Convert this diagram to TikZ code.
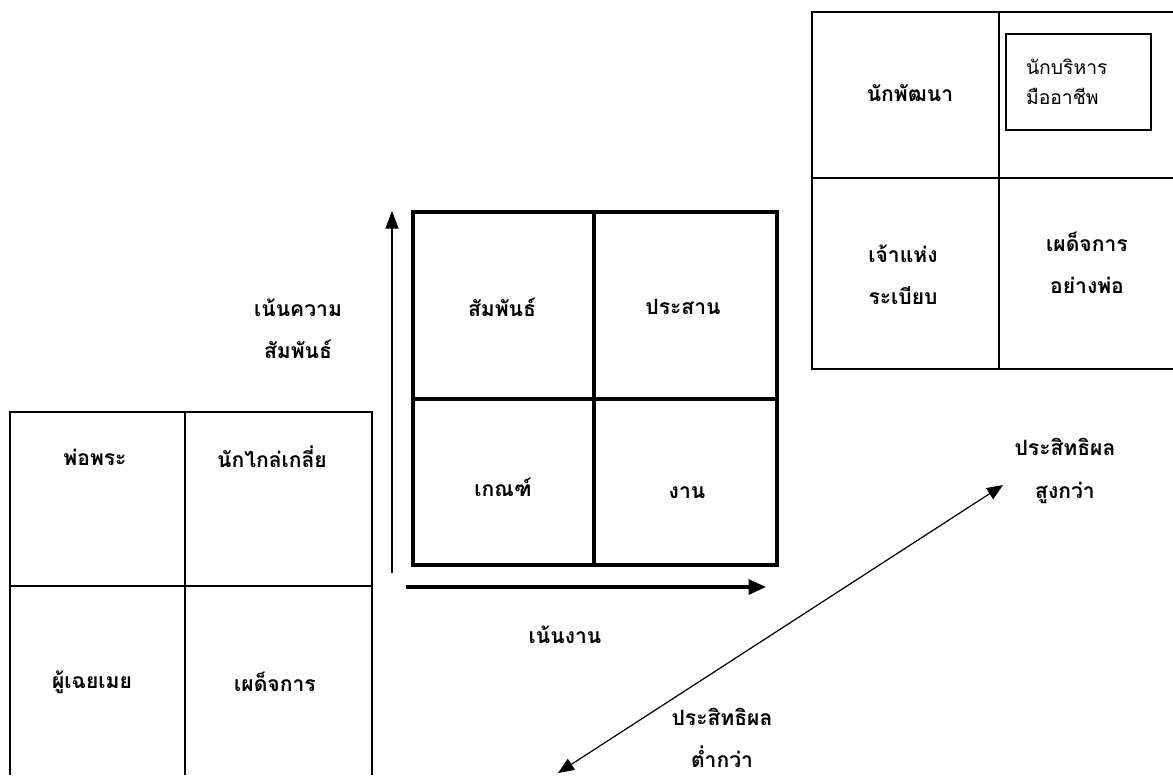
\documentclass[tikz,border=0pt]{standalone}
\usepackage{fontspec}
\newfontfamily\thaifont[Script=Thai]{Loma}
\usetikzlibrary{arrows.meta,positioning}
\tikzset{
  cell/.style={font=\thaifont\bfseries\fontsize{12}{24}\selectfont, align=center, inner sep=1pt},
  plain/.style={font=\thaifont\fontsize{11}{17}\selectfont, align=left},
  thinline/.style={line width=1pt},
  thickline/.style={line width=2.8pt},
  axisup/.style={-{Triangle[length=3.5mm,width=2.6mm]}, line width=1pt},
  axisright/.style={-{Triangle[length=3.5mm,width=3mm]}, line width=2pt},
  twoway/.style={{Triangle[length=3.2mm,width=2.6mm]}-{Triangle[length=3.2mm,width=2.6mm]}, line width=0.7pt},
}
\begin{document}
\begin{tikzpicture}[x=0.02cm, y=-0.02cm]
  \useasboundingbox (0,0) rectangle (1173,775);

  % left grid, open at the bottom
  \draw[thinline] (10,775) -- (10,412) -- (372,412) -- (372,775);
  \draw[thinline] (185,412) -- (185,775);
  \draw[thinline] (10,586) -- (372,586);
  \node[cell] (father) at (95,457) {พ่อพระ};
  \node[cell] (mediator) at (272,457) {นักไกล่เกลี่ย};
  \node[cell] (passive) at (92,682) {ผู้เฉยเมย};
  \node[cell] (autocrat) at (275,682) {เผด็จการ};

  % central grid
  \draw[thickline] (413,212) rectangle (777,565);
  \draw[thickline] (594,212) -- (594,565);
  \draw[thickline] (413,399) -- (777,399);
  \node[cell] (relation) at (502,307) {สัมพันธ์};
  \node[cell] (integrate) at (683,307) {ประสาน};
  \node[cell] (rules) at (503,487) {เกณฑ์};
  \node[cell] (task) at (687,493) {งาน};

  \coordinate (ylow) at (392,573);
  \coordinate (yhigh) at (392,211);
  \draw[axisup] (ylow) -- (yhigh);
  \coordinate (xlow) at (406,587);
  \coordinate (xhigh) at (766,587);
  \draw[axisright] (xlow) -- (xhigh);
  \node[cell] (relfocus) at (298,329) {เน้นความ\\สัมพันธ์};
  \node[cell] (taskfocus) at (565,635) {เน้นงาน};

  % right grid, open at the right
  \draw[thinline] (1173,12) -- (812,12) -- (812,369) -- (1173,369);
  \draw[thinline] (999,12) -- (999,369);
  \draw[thinline] (812,178) -- (1173,178);
  \node[cell] (developer) at (910,93) {นักพัฒนา};
  \node[plain, draw, line width=0.8pt, minimum width=2.9cm, minimum height=1.92cm,
        inner xsep=0.4cm, text width=2.1cm] (pro) at (1078.5,82) {นักบริหาร\\มืออาชีพ};
  \node[cell, text depth=0pt] (bureau) at (903,275) {เจ้าแห่ง\\ระเบียบ};
  \node[cell] (benevolent) at (1087,263) {เผด็จการ\\อย่างพ่อ};

  % effectiveness
  \coordinate (efflow) at (558,773);
  \coordinate (effhigh) at (1003,485);
  \draw[twoway] (efflow) -- (effhigh);
  \node[cell] (higher) at (1065,471) {ประสิทธิผล\\สูงกว่า};
  \node[cell] (lower) at (722,738) {ประสิทธิผล\\ต่ำกว่า};
\end{tikzpicture}
\end{document}
